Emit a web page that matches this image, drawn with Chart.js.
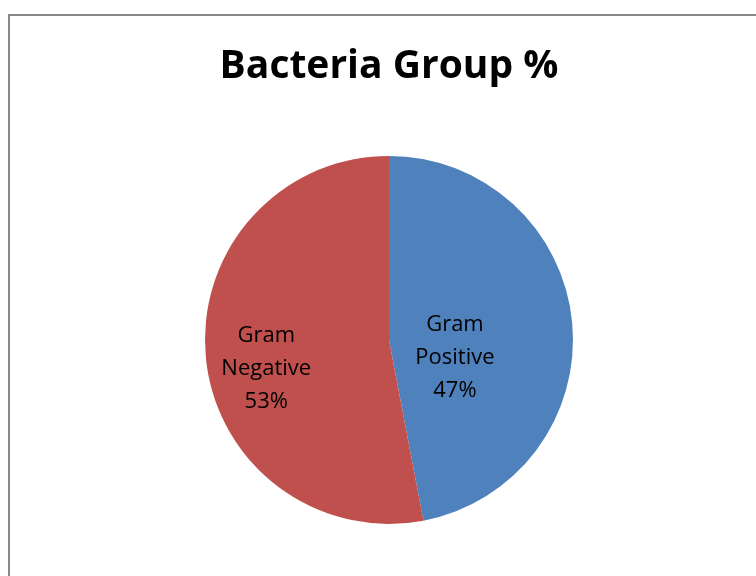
<!DOCTYPE html>
<html>
<head>
<meta charset="utf-8">
<script src="https://cdn.jsdelivr.net/npm/chart.js@4"></script>
<style>
  html, body { margin: 0; padding: 0; background: #fff; overflow: hidden; }
  #wrap { position: relative; width: 756px; height: 576px; }
  #frame { position: absolute; left: 8px; top: 14px; width: 760px; height: 580px;
           border-left: 2px solid #888; border-top: 2px solid #888; box-sizing: border-box; }
  canvas { position: absolute; left: 0; top: 0; }
</style>
</head>
<body>
<div id="wrap">
  <div id="frame"></div>
  <canvas id="c" width="756" height="576"></canvas>
</div>
<script>
const categories = ["Gram Positive", "Gram Negative"];
const labelLines = [["Gram", "Positive"], ["Gram", "Negative"]];
const percentages = [47, 53];
const sliceColors = ["#4F81BD", "#C0504D"];

// Writes category name and percentage inside each slice
const sliceLabels = {
  id: "sliceLabels",
  afterDatasetsDraw(chart, args, opts) {
    const ctx = chart.ctx;
    const meta = chart.getDatasetMeta(0);
    ctx.save();
    ctx.font = opts.font;
    ctx.fillStyle = opts.color;
    ctx.textAlign = "center";
    ctx.textBaseline = "middle";
    meta.data.forEach((arc, i) => {
      const { x, y, startAngle, endAngle, outerRadius } = arc.getProps(
        ["x", "y", "startAngle", "endAngle", "outerRadius"], true);
      const mid = (startAngle + endAngle) / 2;
      const r = outerRadius * opts.radius[i];
      const cx = x + Math.cos(mid) * r;
      const cy = y + Math.sin(mid) * r + opts.shiftY[i];
      const lines = labelLines[i].concat([percentages[i] + "%"]);
      const lh = opts.lineHeight;
      lines.forEach((t, k) => {
        ctx.fillText(t, cx, cy + (k - (lines.length - 1) / 2) * lh);
      });
    });
    ctx.restore();
  }
};

new Chart(document.getElementById("c"), {
  type: "pie",
  data: {
    labels: categories,
    datasets: [{
      data: percentages,
      backgroundColor: sliceColors,
      borderColor: "#ffffff",
      borderWidth: 0
    }]
  },
  options: {
    responsive: false,
    animation: false,
    layout: { padding: { top: 0, bottom: 52, left: 205, right: 183 } },
    plugins: {
      legend: { display: false },
      tooltip: { enabled: false },
      title: {
        display: true,
        text: "Bacteria Group %",
        color: "#000",
        font: { family: "'Open Sans', 'Liberation Sans', sans-serif", size: 39, weight: "bold", lineHeight: 1.2 },
        padding: { top: 43, bottom: 66 }
      },
      sliceLabels: {
        font: "22px 'Open Sans', 'Liberation Sans', sans-serif",
        color: "#000",
        lineHeight: 33,
        radius: [0.36, 0.67],
        shiftY: [24, 17]
      }
    }
  },
  plugins: [sliceLabels]
});
</script>
</body>
</html>
